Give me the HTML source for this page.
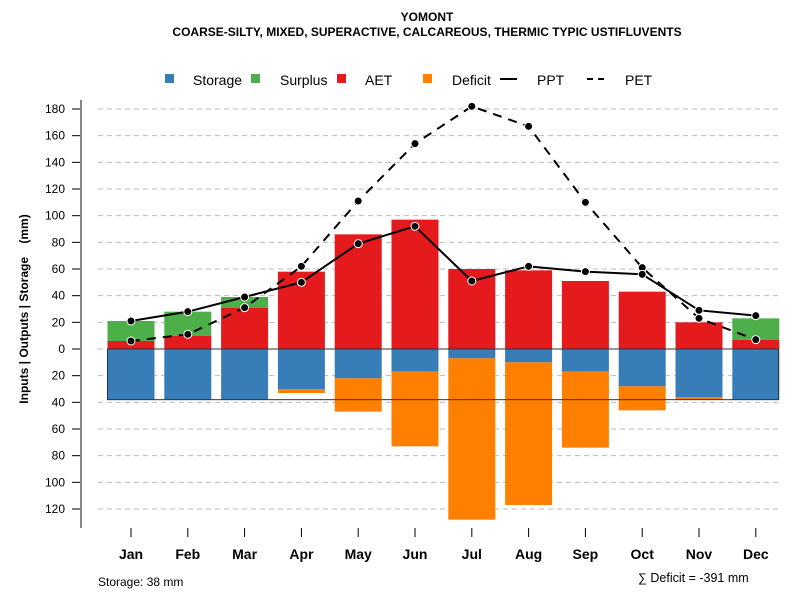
<!DOCTYPE html>
<html><head><meta charset="utf-8"><style>
body{margin:0;background:#fff;}
svg{display:block;font-family:"Liberation Sans",Arial,sans-serif;}
</style></head><body>
<svg id="chart" width="800" height="600">
<text x="427" y="21" text-anchor="middle" font-size="12" font-weight="bold">YOMONT</text>
<text x="427" y="36" text-anchor="middle" font-size="12" font-weight="bold">COARSE-SILTY, MIXED, SUPERACTIVE, CALCAREOUS, THERMIC TYPIC USTIFLUVENTS</text>
<g id="legend" font-size="14">
<g><rect x="165" y="74" width="9" height="9" fill="#377eb8"/><text x="193" y="85">Storage</text></g>
<g><rect x="251" y="74" width="9" height="9" fill="#4daf4a"/><text x="280" y="85">Surplus</text></g>
<g><rect x="337" y="74" width="9" height="9" fill="#e41a1c"/><text x="365" y="85">AET</text></g>
<g><rect x="423" y="74" width="9" height="9" fill="#ff7f00"/><text x="452" y="85">Deficit</text></g>
<g><line x1="500" y1="79" x2="517" y2="79" stroke="#000" stroke-width="2"/><text x="537" y="85">PPT</text></g>
<g><line x1="587" y1="79" x2="608" y2="79" stroke="#000" stroke-width="2" stroke-dasharray="6,5"/><text x="625" y="85">PET</text></g>
</g>
<text transform="translate(28,309) rotate(-90)" text-anchor="middle" font-size="12" font-weight="bold">Inputs | Outputs | Storage&#160;&#160;&#160;&#160;(mm)</text>
<text x="98" y="586" font-size="12">Storage: 38 mm</text>
<text x="638" y="582" font-size="12.5">∑ Deficit = -391 mm</text>
<g id="plot"></g>
</svg>
<script>
const months=["Jan","Feb","Mar","Apr","May","Jun","Jul","Aug","Sep","Oct","Nov","Dec"];
const storage=[38,38,38,30,22,17,7,10,17,28,36,38];
const deficit=[0,0,0,3,25,56,121,107,57,18,2,0];
const aet=[6,10,31,58,86,97,60,59,51,43,20,7];
const surplus=[15,18,8,0,0,0,0,0,0,0,0,16];
const ppt=[21,28,39,50,79,92,51,62,58,56,29,25];
const pet=[6,11,31,62,111,154,182,167,110,61,23,7];
const yTicks=[180,160,140,120,100,80,60,40,20,0,-20,-40,-60,-80,-100,-120];
const awc=38;
const NS="http://www.w3.org/2000/svg";
const g=document.getElementById('plot');
const y=v=>349-v*(240/180);
const x=i=>131+i*56.8;
const bw=47;
function mk(tag,at,parent){const e=document.createElementNS(NS,tag);for(const k in at)e.setAttribute(k,at[k]);(parent||g).appendChild(e);return e;}
yTicks.forEach(t=>{
 const gl=mk('line',{x1:98,x2:779,y1:y(t),y2:y(t),stroke:'#bbb','stroke-dasharray':'5,4'});
 
 
 const tk=mk('line',{x1:72,x2:80,y1:y(t),y2:y(t),stroke:'#000'});
 
 
 const tl=mk('text',{x:65,y:y(t)+4,'text-anchor':'end','font-size':12});
 tl.textContent=Math.abs(t);
 
 
});
const ax=mk('line',{x1:81,x2:81,y1:100,y2:528,stroke:'#888','stroke-width':2});


months.forEach((m,i)=>{
 const cx=x(i);
 const r1=mk('rect',{x:cx-bw/2,y:y(0),width:bw,height:y(-storage[i])-y(0),fill:'#377eb8'});
 
 
 if(deficit[i]>0){const r=mk('rect',{x:cx-bw/2,y:y(-storage[i]),width:bw,height:y(-storage[i]-deficit[i])-y(-storage[i]),fill:'#ff7f00'});
 
 }
 const r2=mk('rect',{x:cx-bw/2,y:y(aet[i]),width:bw,height:y(0)-y(aet[i]),fill:'#e41a1c'});
 
 
 if(surplus[i]>0){const r=mk('rect',{x:cx-bw/2,y:y(aet[i]+surplus[i]),width:bw,height:y(aet[i])-y(aet[i]+surplus[i]),fill:'#4daf4a'});
 
 }
 const tk=mk('line',{x1:cx,x2:cx,y1:528,y2:537,stroke:'#000'});
 
 
 const t=mk('text',{x:cx,y:559,'text-anchor':'middle','font-size':14,'font-weight':'bold'});
 t.textContent=m;
 
 
});
const box=mk('rect',{x:107.5,y:y(0),width:671,height:y(-awc)-y(0),fill:'none',stroke:'#333','stroke-width':1});


function series(vals,dash,name){
 const p=mk('polyline',{points:vals.map((v,i)=>x(i)+','+y(v)).join(' '),fill:'none',stroke:'#000','stroke-width':2,'stroke-dasharray':dash});
 
 
 vals.forEach((v,i)=>{const c=mk('circle',{cx:x(i),cy:y(v),r:4,fill:'#000',stroke:'#fff','stroke-width':1});
 
 });
}
series(pet,'9,7','pet');
series(ppt,'none','ppt');
</script>
</body></html>
